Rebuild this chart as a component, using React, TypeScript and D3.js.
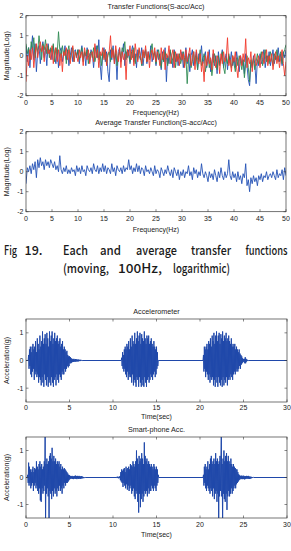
import React from "react";
import * as d3 from "d3";

const W = 291;
const H = 551;

// transfer functions, sampled every 0.25 Hz from 0 to 50 Hz
const freqStep = 0.25;
const freqTicks = [0, 5, 10, 15, 20, 25, 30, 35, 40, 45, 50];
const magTicks = [-2, -1, 0, 1, 2];

const tfBlue = [
  0.5, -0.3, 0.4, -0.6, 0.3, 1.0, -0.2, 0.6, -0.8, 0.2, 0.5, -0.4, 0.3, 0.7, -0.1, 0.4, -0.5, 0.6, 0.1, 0.3,
  -0.2, 0.5, 0.0, -0.4, 0.3, -0.6, 0.2, 0.4, -0.3, 0.1, 0.5, -0.2, 0.3, -0.5, 0.0, 0.4, -0.3, 0.2, 0.3, -0.1,
  0.3, -0.4, 0.1, 0.5, -0.2, 0.2, -0.5, 0.4, 0.0, -0.3, 0.3, 0.1, -0.6, 0.2, 0.5, -0.1, 0.8, -0.4, -1.2, 0.1,
  0.4, -0.3, 0.2, -0.8, -1.3, 0.3, -0.2, 0.5, -0.4, 0.1, -1.2, 0.2, 0.4, -0.3, 0.0, 0.6, -0.5, 0.2, -0.1, 0.3,
  -0.4, 0.2, 0.5, -0.3, 0.1, -0.6, 0.3, 0.0, -0.2, 0.4, -0.5, 0.1, 0.3, -0.4, 0.2, -0.1, 0.5, -0.3, 0.0, 0.2,
  -0.5, 0.3, -0.2, 0.1, -0.7, 0.2, -0.3, 0.4, -1.3, 0.0, -0.4, 0.2, -0.1, -0.6, 0.3, -0.3, 0.1, -0.5, 0.0, -0.2,
  0.2, -0.6, -0.1, 0.4, -0.4, 0.1, -0.8, 0.0, 0.3, -0.5, -0.2, 0.2, -0.7, 0.1, -0.3, 0.5, -0.4, -0.1, 0.2, -0.6,
  -0.2, 0.3, -0.8, -0.3, 0.1, -0.5, 0.0, -0.9, 0.2, -0.4, -0.1, 0.3, -0.6, -0.2, 0.1, -0.7, 0.0, -0.3, 0.2, -0.5,
  -0.1, -0.6, 0.2, -0.3, -0.8, 0.0, -0.4, -0.2, -0.9, 0.1, -0.5, -1.2, -1.5, -0.3, -0.6, 0.0, -0.4, -1.4, -0.2, -0.5,
  0.1, -0.4, -0.2, 0.3, -0.6, 0.0, -0.3, 0.2, -0.5, -0.1, 0.3, -0.4, 0.0, -0.2, 0.4, -0.3, 0.1, -0.5, 0.2, -0.1,
  0.3,
];

const tfGreen = [
  0.6, 0.1, 0.4, -0.2, 0.7, 0.3, 0.9, -0.1, 0.5, 0.2, 1.0, 0.4, -0.2, 0.6, 0.3, 0.8, 0.1, 0.5, -0.1, 0.4,
  0.2, 0.6, -0.3, 0.4, 0.1, 1.2, 0.3, -0.1, 0.5, 0.0, 0.3, -0.4, 0.2, 0.5, -0.2, 0.1, 0.4, -0.3, 0.2, 0.0,
  0.3, -0.2, 0.1, 0.4, -0.3, 0.2, 0.0, 0.3, -0.4, 0.1, 0.2, -0.1, 0.4, -0.3, 0.0, 0.5, -0.2, 0.1, -0.5, 0.2,
  -0.1, 0.3, -0.4, 0.0, 0.2, -0.3, 0.4, 0.1, -0.2, 0.3, -0.5, 0.0, 0.2, -0.1, 0.4, 0.2, 0.7, -0.2, 0.3, 0.0,
  -0.3, 0.2, -0.1, 0.4, -0.4, 0.1, -0.2, 0.3, 0.0, -0.5, 0.2, -0.1, 0.3, -0.3, 0.1, -0.2, 0.3, 0.6, -0.1, 0.2,
  -0.4, 0.0, 0.3, -0.2, -0.6, 0.1, -0.3, 0.2, -0.1, -0.5, 0.0, 0.3, -0.4, -0.1, 0.2, -0.6, 0.0, -0.2, 0.1, -0.4,
  -0.1, 0.2, -0.5, 0.0, -1.4, -0.2, 0.1, -0.6, -0.3, 0.2, -0.4, 0.0, -0.7, -0.1, 0.3, -0.5, -0.2, 0.1, -0.8, -0.3,
  0.0, -0.6, -0.2, -1.0, -0.4, 0.1, -0.3, -0.7, 0.0, -0.5, -0.2, 0.2, -0.6, -0.9, -0.1, -0.4, 0.1, -0.3, -0.6, 0.0,
  -0.4, -0.8, -0.1, -0.5, 0.0, -0.3, -0.7, -0.2, -1.1, -0.4, 0.0, -0.6, -1.3, -0.2, -0.5, -0.1, -0.7, -0.3, 0.1, -0.4,
  -0.2, 0.2, -0.5, -0.1, 0.3, -0.3, 0.0, -0.4, 0.2, -0.1, -0.5, 0.1, -0.2, 0.3, -0.3, 0.0, 0.2, -0.4, 0.1, 0.3,
  0.55,
];

const tfRed = [
  -1.3, 0.0, -0.5, 0.3, -0.2, 0.4, -0.6, 0.1, 0.6, -0.1, 0.3, 0.7, 0.2, 0.5, -0.3, 0.4, 0.6, 0.1, 0.3, -0.2,
  0.5, -0.4, 0.2, 0.4, -0.3, 0.3, -0.5, 0.1, -0.8, 0.2, 0.0, 0.4, -0.2, 0.3, -0.4, 0.1, 0.5, -0.3, 0.2, 0.0,
  -0.3, 0.3, -0.1, 0.2, -0.5, 0.4, 0.0, -0.2, 0.3, -0.4, 0.1, 0.2, -0.3, 0.6, -0.1, 0.3, -0.6, 0.2, 0.0, 0.4,
  -0.2, 0.3, -0.5, 0.1, 0.2, 1.0, -0.1, 0.3, -0.4, 0.5, 0.0, -0.3, 0.4, -0.6, 0.2, -0.2, 0.1, -1.2, 0.3, 0.0,
  0.5, -0.2, 0.3, -0.5, 0.6, 0.1, -0.3, 0.4, 0.0, -0.4, 0.3, -0.1, 0.5, -0.3, 0.2, -0.6, 0.1, 0.3, -0.2, 0.4,
  -0.3, 0.2, 0.0, -0.5, 0.4, -0.2, 0.3, -0.7, 0.1, -0.1, 0.5, -0.4, 0.0, 0.3, -0.6, 0.2, -0.3, 0.1, -0.5, 0.3,
  -0.2, 0.1, -0.6, 0.3, -0.3, 0.0, 0.4, -0.5, -0.1, 0.2, -0.7, 0.3, -0.2, -0.4, 0.1, -0.8, -0.3, -1.3, 0.0, -0.5,
  0.2, -0.4, -0.1, -0.7, 0.3, -0.3, -0.6, 0.0, -0.2, -0.9, 0.1, -0.4, 0.2, -0.3, -0.1, 0.9, -0.5, -0.2, -0.8, 0.0,
  -0.3, 0.2, -0.6, -1.1, -0.2, 0.0, -0.5, 0.1, -0.3, 0.85, -0.6, -0.1, -0.4, 0.2, -0.8, -0.2, 0.1, -0.5, -0.3, 0.0,
  -0.6, -0.1, 0.2, -0.4, -0.2, 0.3, -0.5, 0.0, -0.3, 0.1, -0.7, -0.2, 0.2, -0.4, 0.0, -0.6, -0.1, 0.3, -0.4, -1.0,
  -0.3,
];

const tfAverage = [
  -0.6, 0.2, 0.0, 0.3, -0.1, 0.4, 0.1, 0.5, -0.3, 0.6, 0.2, 0.7, 0.3, 0.5, 0.1, 0.6, 0.3, 0.5, 0.2, 0.6,
  0.4, 0.2, 0.5, 0.1, 0.3, 0.0, 0.8, 0.1, -0.1, 0.2, 0.0, 0.3, -0.1, 0.1, -0.1, 0.2, 0.0, 0.1, -0.2, 0.3,
  0.0, 0.2, -0.1, 0.3, 0.0, 0.1, -0.2, 0.3, 0.1, 0.0, 0.2, -0.1, 0.4, 0.1, 0.0, 0.3, -0.1, 0.2, 0.0, 0.4,
  0.0, 0.3, -0.1, 0.2, 0.1, -0.1, 0.4, 0.0, 0.2, -0.2, 0.3, 0.1, 0.0, 0.2, -0.1, 0.3, 0.0, 0.2, 0.1, 0.6,
  0.1, 0.3, -0.1, 0.2, 0.0, 0.4, 0.0, 0.3, -0.1, 0.2, 0.1, -0.2, 0.3, 0.0, 0.1, -0.1, 0.2, 0.0, -0.2, 0.3,
  -0.1, 0.1, 0.0, -0.3, 0.2, 0.0, -0.2, 0.1, -0.1, 0.3, 0.0, -0.2, 0.1, -0.3, 0.2, 0.0, -0.2, 0.1, -0.4, 0.0,
  -0.2, 0.1, -0.3, 0.0, -0.1, 0.3, -0.2, 0.0, -0.4, 0.2, -0.1, 0.1, -0.3, 0.0, -0.2, 0.4, -0.1, -0.3, 0.0, -0.2,
  -0.5, 0.0, -0.3, -0.1, -0.4, 0.1, -0.2, -0.5, 0.0, -0.3, 0.2, -0.2, -0.4, 0.0, -0.3, -0.1, 0.6, -0.2, -0.4, 0.0,
  -0.3, -0.1, -0.5, 0.0, -0.4, -0.2, -0.6, -0.1, -0.3, 0.4, -0.7, -0.4, -1.0, -0.3, -0.6, -0.2, -0.5, -0.3, -0.7, -0.2,
  -0.4, -0.1, -0.5, -0.2, -0.3, 0.0, -0.4, -0.2, -0.1, -0.3, 0.0, -0.2, -0.4, 0.1, -0.3, -0.1, -0.2, 0.1, -0.4, 0.2,
  -0.2,
];

// acceleration records: bursts sampled every 0.05 s, zero elsewhere
const timeStep = 0.05;
const timeTicks = [0, 5, 10, 15, 20, 25, 30];
const accTicks = [-1, 0, 1];

const accelStarts = [0.3, 11.0, 20.4];
const accelBurst1 = [
  0.2, -0.3, 0.4, -0.2, 0.5, -0.5, 0.3, -0.6, 0.5, -0.4,
  0.6, -0.3, 0.4, -0.7, 0.5, -0.5, 0.7, -0.4, 0.3, -0.6,
  0.8, -0.5, 0.6, -0.8, 0.4, -0.6, 0.9, -0.7, 0.5, -0.9,
  0.7, -0.6, 1.05, -0.8, 0.6, -0.95, 0.8, -0.5, 0.95, -0.7,
  0.6, -0.9, 1.0, -0.6, 0.8, -0.95, 0.5, -0.8, 1.05, -0.7,
  0.7, -0.9, 0.9, -0.6, 1.05, -0.8, 0.6, -0.95, 0.8, -0.7,
  1.0, -0.6, 0.7, -0.9, 0.8, -0.5, 0.9, -0.7, 0.6, -0.8,
  0.7, -0.5, 0.8, -0.6, 0.5, -0.7, 0.6, -0.4, 0.7, -0.5,
  0.4, -0.5, 0.5, -0.3, 0.4, -0.4, 0.3, -0.3, 0.35, -0.2,
  0.2, -0.25, 0.15, -0.2, 0.15, -0.1, 0.12, -0.1, 0.08, -0.08,
  0.06, -0.05, 0.05, -0.05, 0.06, -0.04, 0.04, -0.05, 0.05, -0.03,
  0.04, -0.04, 0.03, -0.03, 0.04, -0.03, 0.02, -0.02, 0.03, -0.02,
  0.02, -0.01, 0.01, 0,
];
const accelBurst2 = [
  0.1, -0.2, 0.3, -0.3, 0.2, -0.4, 0.4, -0.3, 0.5, -0.5,
  0.4, -0.6, 0.6, -0.4, 0.5, -0.7, 0.7, -0.5, 0.4, -0.6,
  0.8, -0.6, 0.5, -0.8, 0.9, -0.5, 0.7, -0.9, 0.6, -0.7,
  1.0, -0.8, 0.6, -0.95, 0.8, -0.6, 1.05, -0.7, 0.7, -0.95,
  0.9, -0.6, 1.0, -0.8, 0.6, -0.95, 0.95, -0.7, 0.8, -0.9,
  0.7, -0.95, 1.05, -0.6, 0.8, -0.8, 0.6, -0.95, 0.9, -0.7,
  0.8, -0.6, 0.9, -0.8, 0.6, -0.7, 0.7, -0.5, 0.8, -0.6,
  0.6, -0.7, 0.5, -0.5, 0.7, -0.4, 0.5, -0.6, 0.4, -0.5,
  0.5, -0.3, 0.3, -0.2, 0,
];
const accelBurst3 = [
  0.2, -0.4, 0.5, -0.3, 0.4, -0.6, 0.5, -0.4, 0.6, -0.5,
  0.4, -0.7, 0.7, -0.5, 0.6, -0.8, 0.8, -0.6, 0.5, -0.7,
  0.9, -0.6, 0.7, -0.9, 1.0, -0.7, 0.6, -0.95, 0.9, -0.6,
  1.05, -0.8, 0.7, -0.95, 0.9, -0.6, 1.0, -0.8, 0.6, -0.9,
  0.95, -0.7, 0.8, -0.95, 1.05, -0.6, 0.7, -0.9, 0.9, -0.7,
  0.8, -0.8, 1.0, -0.6, 0.7, -0.9, 0.8, -0.7, 0.9, -0.6,
  0.7, -0.7, 0.6, -0.5, 0.8, -0.6, 0.5, -0.7, 0.6, -0.5,
  0.5, -0.4, 0.6, -0.5, 0.4, -0.4, 0.5, -0.3, 0.4, -0.4,
  0.3, -0.3, 0.4, -0.2, 0.25, -0.3, 0.2, -0.15, 0.15, -0.1,
  0.08, -0.06, 0.05, -0.04, 0.06, -0.1, 0.12, -0.1, 0.06, -0.04,
  0.03, -0.02, 0.01, 0,
];

const phoneStarts = [0.2, 10.4, 20.4];
const phoneBurst1 = [
  0.1, -0.2, 0.55, -0.3, 0.4, -0.2, 0.3, -0.4, 0.2, -0.3,
  0.3, -0.2, 0.4, -0.5, 0.2, -0.3, 0.35, -0.2, 0.3, -0.4,
  0.6, -0.3, 0.4, -0.5, 0.3, -0.6, 0.5, -0.4, 0.6, -0.85,
  0.4, -0.9, 0.5, -0.4, 0.3, -0.6, 0.4, -0.5, 0.6, -0.3,
  1.8, -1.8, 0.5, -0.6, 0.7, -0.4, 0.5, -0.7, 0.6, -1.8,
  0.8, -0.5, 0.9, -0.6, 0.7, -0.8, 1.1, -0.5, 0.6, -0.7,
  0.8, -0.4, 0.6, -0.6, 0.7, -0.5, 0.5, -0.7, 0.6, -0.4,
  0.5, -0.5, 0.6, -0.3, 0.4, -0.5, 0.5, -0.4, 0.3, -0.6,
  0.4, -0.3, 0.3, -0.4, 0.35, -0.2, 0.3, -0.3, 0.25, -0.2,
  0.2, -0.2, 0.15, -0.15, 0.1, -0.1, 0.08, -0.06, 0.06, -0.05,
  0.05, -0.04, 0.06, -0.05, 0.04, -0.06, 0.05, -0.04, 0.06, -0.05,
  0.07, -0.05, 0.05, -0.06, 0.06, -0.04, 0.05, -0.05, 0.06, -0.04,
  0.05, -0.05, 0.04, -0.04, 0.05, -0.03, 0.03, -0.03, 0.02, -0.02,
  0.01, -0.01, 0,
];
const phoneBurst2 = [
  0.02, -0.02, 0.03, -0.02, 0.02, -0.03, 0.03, -0.02,
  0.05, -0.1, 0.2, -0.15, 0.3, -0.2, 0.25, -0.35, 0.3, -0.2,
  0.35, -0.3, 0.2, -0.4, 0.4, -0.25, 0.3, -0.45, 0.35, -0.3,
  0.4, -0.5, 0.3, -0.4, 0.5, -0.3, 0.45, -0.6, 0.4, -0.5,
  0.6, -0.4, 0.5, -0.7, 0.4, -0.8, 0.6, -0.5, 1.0, -0.6,
  0.7, -0.9, 0.5, -1.3, 0.8, -0.6, 0.6, -1.1, 0.7, -0.8,
  0.9, -0.6, 0.7, -0.9, 0.5, -0.7, 1.3, -0.5, 0.8, -0.6,
  0.6, -0.5, 0.7, -0.7, 0.5, -0.4, 0.6, -0.6, 0.5, -0.5,
  0.4, -0.5, 0.5, -0.3, 0.4, -0.4, 0.3, -0.5, 0.5, -0.3,
  0.4, -0.4, 0.3, -0.5, 0.4, -0.3, 0.3, -0.2, 0.1, 0,
];
const phoneBurst3 = [
  0.1, -0.3, 0.4, -0.2, 0.5, -0.4, 0.3, -0.5, 0.4, -0.3,
  0.6, -0.4, 0.3, -0.5, 0.5, -0.6, 0.7, -0.4, 0.8, -0.5,
  0.5, -0.7, 0.6, -0.4, 0.7, -0.8, 0.5, -0.6, 0.9, -0.5,
  0.6, -0.9, 0.7, -0.6, 0.5, -1.8, 0.6, -0.7, 0.8, -0.5,
  0.6, 1.8, -0.7, 0.5, -1.8, 0.7, -0.6, 1.0, -0.8, 0.6,
  -0.9, 0.8, -0.6, 0.9, -1.2, 0.6, -0.7, 0.8, -0.5, 0.6,
  -0.7, 0.5, -0.6, 0.7, -0.4, 0.5, -0.6, 0.4, -0.5, 0.5,
  -0.4, 0.4, -0.3, 0.35, -0.4, 0.3, -0.25, 0.3, -0.2, 0.2,
  -0.15, 0.12, -0.1, 0.08, -0.07, 0.06, -0.05, 0.07, -0.06, 0.05,
  -0.06, 0.07, -0.05, 0.06, -0.07, 0.05, -0.06, 0.05, -0.04, 0.06,
  -0.05, 0.05, -0.04, 0.06, -0.05, 0.04, -0.05, 0.03, -0.04, 0.03,
  -0.03, 0.02, -0.02, 0.01, -0.01, 0.01, 0,
];

const BLUE = "#2451b6";
const DARK_BLUE = "#1f48aa";
const GREEN = "#2f8a52";
const RED = "#f2392b";
const AXIS = "#3a3a3a";
const FONT = "'Liberation Sans', Arial, sans-serif";

type Pt = [number, number];

const freqSeries = (vals: number[]): Pt[] => vals.map((v, i) => [i * freqStep, v]);

// each burst sits on a flat zero baseline
const timeSeries = (starts: number[], bursts: number[][], tEnd: number): Pt[] => {
  const pts: Pt[] = [[0, 0]];
  bursts.forEach((b, k) => {
    pts.push([starts[k] - timeStep, 0]);
    b.forEach((v, i) => pts.push([starts[k] + i * timeStep, v]));
  });
  pts.push([tEnd, 0]);
  return pts;
};

interface Series {
  pts: Pt[];
  color: string;
  width: number;
}

interface PanelProps {
  id: string;
  x0: number;
  x1: number;
  y0: number;
  y1: number;
  xDomain: [number, number];
  yDomain: [number, number];
  xTicks: number[];
  yTicks: number[];
  title: string;
  titleY: number;
  xLabel: string;
  tickLabelY: number;
  xLabelY: number;
  yLabel: string;
  series: Series[];
}

function Panel(p: PanelProps) {
  const x = d3.scaleLinear().domain(p.xDomain).range([p.x0, p.x1]);
  const y = d3.scaleLinear().domain(p.yDomain).range([p.y1, p.y0]);
  const line = d3
    .line<Pt>()
    .x((d) => x(d[0]))
    .y((d) => y(d[1]));
  const tl = 2.5;
  const midX = (p.x0 + p.x1) / 2;
  const midY = (p.y0 + p.y1) / 2;

  return (
    <g fontFamily={FONT} fill="#222">
      <defs>
        <clipPath id={p.id}>
          <rect x={p.x0} y={p.y0} width={p.x1 - p.x0} height={p.y1 - p.y0} />
        </clipPath>
      </defs>
      <text x={midX} y={p.titleY} fontSize={7.2} textAnchor="middle">
        {p.title}
      </text>
      <g clipPath={`url(#${p.id})`}>
        {p.series.map((s, i) => (
          <path key={i} d={line(s.pts) || ""} fill="none" stroke={s.color} strokeWidth={s.width} strokeLinejoin="round" />
        ))}
      </g>
      <rect x={p.x0} y={p.y0} width={p.x1 - p.x0} height={p.y1 - p.y0} fill="none" stroke={AXIS} strokeWidth={0.7} />
      {p.xTicks.map((t) => (
        <g key={"x" + t}>
          <line x1={x(t)} x2={x(t)} y1={p.y1} y2={p.y1 - tl} stroke={AXIS} strokeWidth={0.6} />
          <line x1={x(t)} x2={x(t)} y1={p.y0} y2={p.y0 + tl} stroke={AXIS} strokeWidth={0.6} />
          <text x={x(t)} y={p.tickLabelY} fontSize={7} textAnchor="middle">
            {t}
          </text>
        </g>
      ))}
      {p.yTicks.map((t) => (
        <g key={"y" + t}>
          <line x1={p.x0} x2={p.x0 + tl} y1={y(t)} y2={y(t)} stroke={AXIS} strokeWidth={0.6} />
          <line x1={p.x1} x2={p.x1 - tl} y1={y(t)} y2={y(t)} stroke={AXIS} strokeWidth={0.6} />
          <text x={p.x0 - 2.5} y={y(t) + 2.5} fontSize={7} textAnchor="end">
            {t}
          </text>
        </g>
      ))}
      <text x={midX} y={p.xLabelY} fontSize={7} textAnchor="middle">
        {p.xLabel}
      </text>
      <text transform={`translate(8.5,${midY}) rotate(-90)`} fontSize={7} textAnchor="middle">
        {p.yLabel}
      </text>
    </g>
  );
}

// caption words, laid out as a justified paragraph
const captionLine1 = ["Fig", "19.", "Each", "and", "average", "transfer", "functions"];
const captionLine1X = [4, 24.5, 63, 100, 136, 191, 245.5];
const captionLine1W = [13, 18, 25, 21, 41, 40, 42];
const captionLine2 = ["(moving,", "100Hz,", "logarithmic)"];
const captionLine2X = [63, 118, 173];
const captionLine2W = [46, 44, 57];

export default function App() {
  const tfSeries: Series[] = [
    { pts: freqSeries(tfBlue), color: BLUE, width: 0.9 },
    { pts: freqSeries(tfGreen), color: GREEN, width: 0.9 },
    { pts: freqSeries(tfRed), color: RED, width: 0.9 },
  ];
  const avgSeries: Series[] = [{ pts: freqSeries(tfAverage), color: BLUE, width: 0.9 }];
  const accelSeries: Series[] = [
    { pts: timeSeries(accelStarts, [accelBurst1, accelBurst2, accelBurst3], 30), color: DARK_BLUE, width: 1 },
  ];
  const phoneSeries: Series[] = [
    { pts: timeSeries(phoneStarts, [phoneBurst1, phoneBurst2, phoneBurst3], 30), color: DARK_BLUE, width: 1 },
  ];

  return (
    <svg
      width={W}
      height={H}
      viewBox={`0 0 ${W} ${H}`}
      style={{ position: "absolute", left: 0, top: 0, background: "#fff" }}
    >
      <rect width={W} height={H} fill="#fff" />
      <Panel
        id="clip-tf"
        x0={26}
        x1={286}
        y0={15.7}
        y1={95.7}
        xDomain={[0, 50]}
        yDomain={[-2, 2]}
        xTicks={freqTicks}
        yTicks={magTicks}
        title="Transfer Functions(S-acc/Acc)"
        titleY={9.3}
        xLabel="Frequency(Hz)"
        tickLabelY={104.8}
        xLabelY={115.3}
        yLabel="Magnitude(Log)"
        series={tfSeries}
      />
      <Panel
        id="clip-avg"
        x0={26}
        x1={286}
        y0={131.7}
        y1={211.7}
        xDomain={[0, 50]}
        yDomain={[-2, 2]}
        xTicks={freqTicks}
        yTicks={magTicks}
        title="Average Transfer Function(S-acc/Acc)"
        titleY={125}
        xLabel="Frequency(Hz)"
        tickLabelY={220.5}
        xLabelY={231.5}
        yLabel="Magnitude(Log)"
        series={avgSeries}
      />
      <g fontFamily="'Noto Sans CJK KR', 'Noto Sans', sans-serif" fontSize={12.5} fontWeight={500} fill="#1a1a1a">
        {captionLine1.map((w, i) => (
          <text key={w} x={captionLine1X[i]} y={255} textLength={captionLine1W[i]} lengthAdjust="spacingAndGlyphs">
            {w}
          </text>
        ))}
        {captionLine2.map((w, i) => (
          <text key={w} x={captionLine2X[i]} y={273} textLength={captionLine2W[i]} lengthAdjust="spacingAndGlyphs">
            {w}
          </text>
        ))}
      </g>
      <Panel
        id="clip-acc"
        x0={26}
        x1={287}
        y0={319}
        y1={402}
        xDomain={[0, 30]}
        yDomain={[-1.5, 1.5]}
        xTicks={timeTicks}
        yTicks={accTicks}
        title="Accelerometer"
        titleY={314.3}
        xLabel="Time(sec)"
        tickLabelY={410}
        xLabelY={418.5}
        yLabel="Acceleration(g)"
        series={accelSeries}
      />
      <Panel
        id="clip-phone"
        x0={26}
        x1={287}
        y0={437}
        y1={518}
        xDomain={[0, 30]}
        yDomain={[-1.5, 1.5]}
        xTicks={timeTicks}
        yTicks={accTicks}
        title="Smart-phone Acc."
        titleY={431.6}
        xLabel="Time(sec)"
        tickLabelY={526.6}
        xLabelY={536.6}
        yLabel="Acceleration(g)"
        series={phoneSeries}
      />
    </svg>
  );
}
